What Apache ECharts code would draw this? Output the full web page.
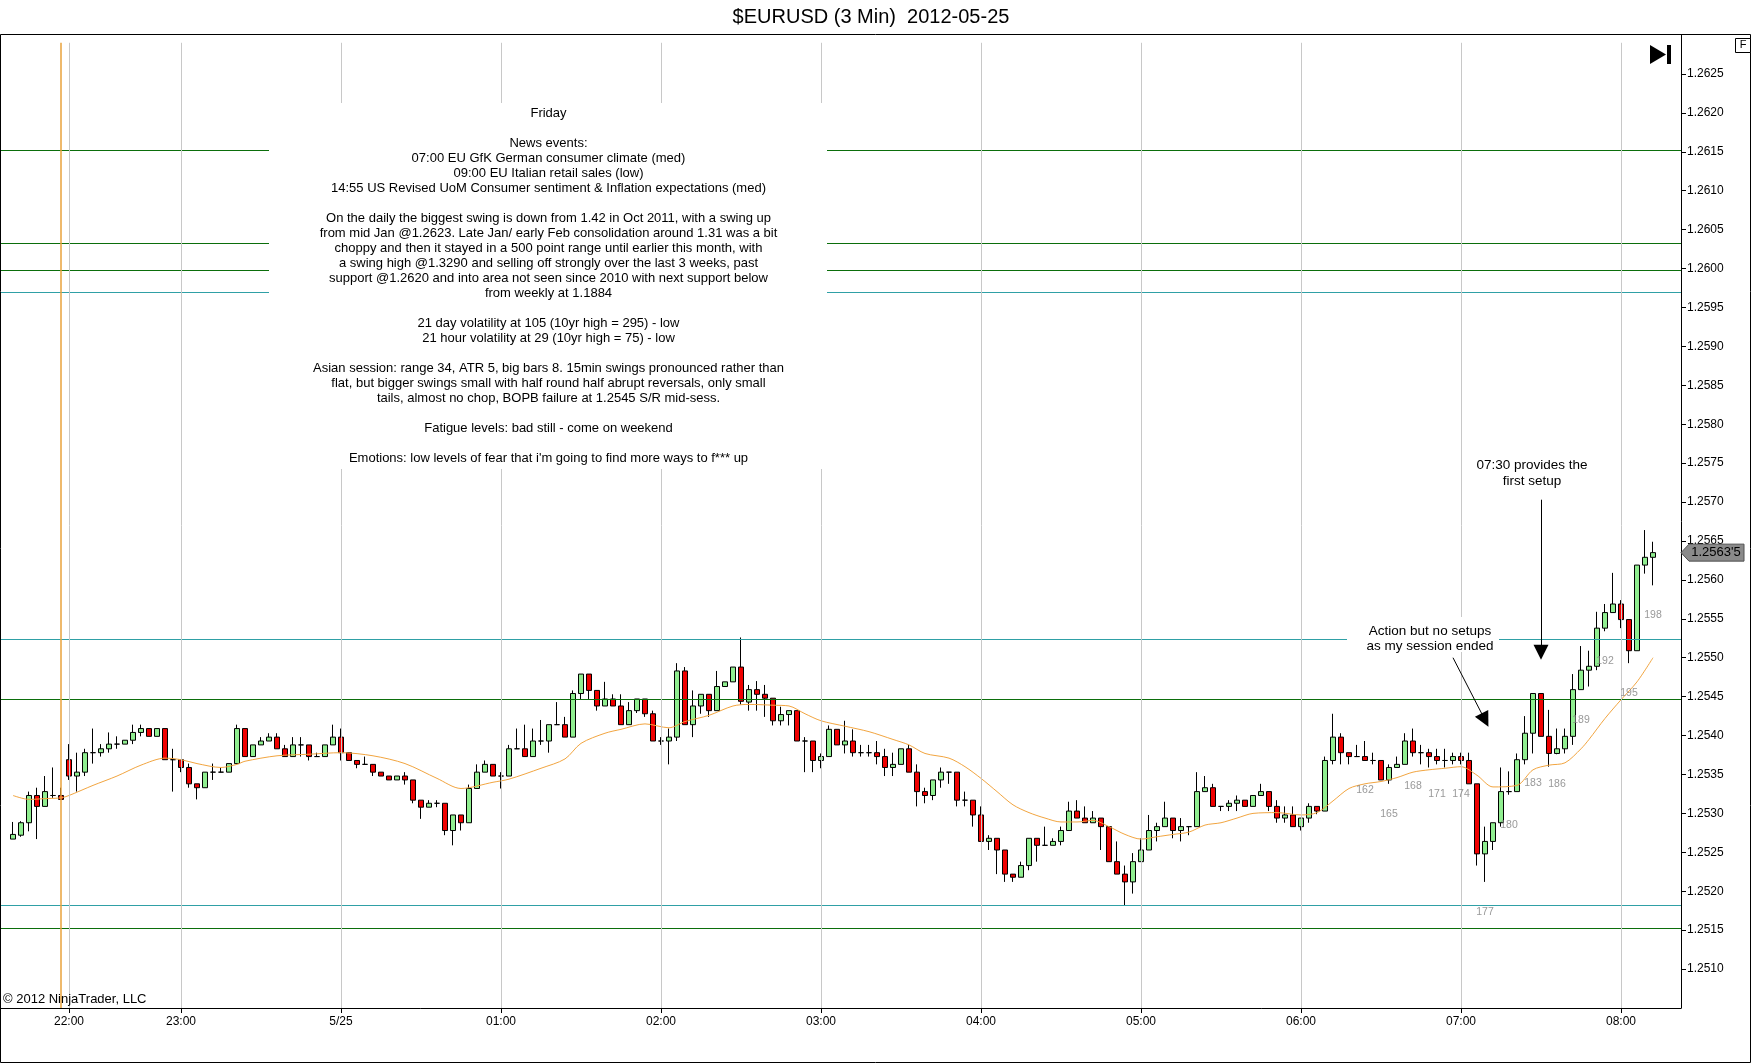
<!DOCTYPE html>
<html>
<head>
<meta charset="utf-8">
<title>$EURUSD (3 Min) 2012-05-25</title>
<script src="https://cdn.jsdelivr.net/npm/echarts@6/dist/echarts.min.js"></script>
<style>
  html, body { margin: 0; padding: 0; background: #fff; }
  #chart { width: 1752px; height: 1064px; }
</style>
</head>
<body>
<div id="chart"></div>
<script>
// 3 min bars, index 0 = first bar on the left of the chart
var opens = [
  1.25267,1.25272,1.25288,1.25323,1.25309,1.25323,1.25323,1.25369,1.25348,1.25353,
  1.25378,1.25378,1.25383,1.25389,1.25389,1.25394,1.25404,1.25409,1.25399,1.25409,
  1.25369,1.25369,1.25359,1.25338,1.25333,1.25353,1.25353,1.25353,1.25364,1.25409,
  1.25373,1.25388,1.25393,1.25398,1.25383,1.25373,1.25388,1.25388,1.25373,1.25373,
  1.25388,1.25398,1.25378,1.25368,1.25363,1.25363,1.25353,1.25348,1.25343,1.25348,
  1.25343,1.25317,1.25308,1.25313,1.25313,1.25278,1.25298,1.25288,1.25332,1.25353,
  1.25363,1.25348,1.25348,1.25383,1.25383,1.25373,1.25393,1.25393,1.25414,1.25414,
  1.25398,1.25454,1.25479,1.25458,1.25438,1.25447,1.25438,1.25414,1.25432,1.25447,
  1.25428,1.25393,1.25393,1.25398,1.25483,1.25414,1.25438,1.25453,1.25432,1.25463,
  1.25469,1.25488,1.25443,1.25459,1.25453,1.25448,1.25419,1.25427,1.25432,1.25393,
  1.25393,1.25368,1.25373,1.25408,1.25388,1.25393,1.25378,1.25378,1.25378,1.25373,
  1.25359,1.25363,1.25383,1.25353,1.25328,1.25323,1.25343,1.25353,1.25353,1.25317,
  1.25317,1.25298,1.25264,1.25268,1.25253,1.25222,1.25218,1.25233,1.25268,1.25259,
  1.25259,1.25264,1.25278,1.25303,1.25294,1.25288,1.25294,1.25283,1.25238,1.25222,
  1.25212,1.25238,1.25253,1.25278,1.25283,1.25294,1.25278,1.25283,1.25283,1.25328,
  1.25333,1.25309,1.25309,1.25313,1.25317,1.25309,1.25323,1.25328,1.25309,1.25294,
  1.25298,1.25283,1.25294,1.25309,1.25303,1.25368,1.25398,1.25378,1.25373,1.25373,
  1.25368,1.25368,1.25343,1.25359,1.25363,1.25393,1.25378,1.25378,1.25373,1.25368,
  1.25368,1.25373,1.25368,1.25338,1.25248,1.25264,1.25288,1.25328,1.25328,1.25369,
  1.25403,1.25454,1.25399,1.25377,1.25383,1.25399,1.25459,1.25484,1.25489,1.25538,
  1.25558,1.25569,1.25549,1.25509,1.25619,1.25629
];
var closes = [
  1.25273,1.25288,1.25323,1.25309,1.25328,1.25323,1.25318,1.25348,1.25353,1.25378,
  1.25378,1.25383,1.25389,1.25389,1.25394,1.25404,1.25409,1.25399,1.25409,1.25369,
  1.25369,1.25359,1.25338,1.25333,1.25353,1.25353,1.25353,1.25364,1.25409,1.25373,
  1.25388,1.25393,1.25398,1.25383,1.25373,1.25388,1.25388,1.25373,1.25373,1.25388,
  1.25398,1.25378,1.25368,1.25363,1.25363,1.25353,1.25348,1.25343,1.25348,1.25343,
  1.25317,1.25308,1.25313,1.25313,1.25278,1.25298,1.25288,1.25332,1.25353,1.25363,
  1.25348,1.25348,1.25383,1.25383,1.25373,1.25393,1.25393,1.25414,1.25414,1.25398,
  1.25454,1.25479,1.25458,1.25438,1.25447,1.25438,1.25414,1.25432,1.25447,1.25428,
  1.25393,1.25393,1.25398,1.25483,1.25414,1.25438,1.25453,1.25432,1.25463,1.25469,
  1.25488,1.25444,1.25459,1.25453,1.25448,1.25419,1.25427,1.25432,1.25393,1.25393,
  1.25368,1.25373,1.25408,1.25388,1.25393,1.25378,1.25378,1.25378,1.25373,1.25359,
  1.25363,1.25383,1.25353,1.25328,1.25323,1.25343,1.25353,1.25353,1.25317,1.25317,
  1.25298,1.25264,1.25268,1.25253,1.25222,1.25218,1.25233,1.25268,1.25259,1.25259,
  1.25264,1.25278,1.25303,1.25294,1.25288,1.25294,1.25283,1.25238,1.25222,1.25212,
  1.25238,1.25253,1.25278,1.25283,1.25294,1.25278,1.25283,1.25283,1.25328,1.25333,
  1.25309,1.25309,1.25313,1.25317,1.25309,1.25323,1.25328,1.25309,1.25294,1.25298,
  1.25283,1.25294,1.25309,1.25303,1.25368,1.25398,1.25378,1.25373,1.25373,1.25368,
  1.25368,1.25343,1.25359,1.25363,1.25393,1.25378,1.25378,1.25373,1.25368,1.25368,
  1.25373,1.25368,1.25338,1.25248,1.25264,1.25288,1.25328,1.25328,1.25369,1.25403,
  1.25454,1.25399,1.25377,1.25383,1.25399,1.25459,1.25484,1.25489,1.25538,1.25558,
  1.25569,1.25549,1.25509,1.25619,1.25629,1.25635
];
var lows = [
  1.25267,1.25270,1.25277,1.25267,1.25309,1.25320,1.25318,1.25343,1.25328,1.25348,
  1.25364,1.25373,1.25378,1.25383,1.25389,1.25389,1.25399,1.25399,1.25399,1.25369,
  1.25328,1.25353,1.25333,1.25318,1.25333,1.25343,1.25353,1.25353,1.25364,1.25373,
  1.25373,1.25388,1.25393,1.25383,1.25373,1.25373,1.25373,1.25368,1.25373,1.25373,
  1.25388,1.25368,1.25368,1.25358,1.25363,1.25348,1.25348,1.25343,1.25343,1.25337,
  1.25313,1.25293,1.25308,1.25308,1.25272,1.25259,1.25278,1.25288,1.25332,1.25353,
  1.25348,1.25332,1.25348,1.25383,1.25373,1.25373,1.25388,1.25378,1.25414,1.25398,
  1.25398,1.25447,1.25447,1.25432,1.25438,1.25438,1.25414,1.25414,1.25429,1.25424,
  1.25393,1.25388,1.25363,1.25393,1.25414,1.25398,1.25428,1.25424,1.25432,1.25463,
  1.25469,1.25440,1.25432,1.25432,1.25424,1.25413,1.25413,1.25413,1.25393,1.25353,
  1.25353,1.25358,1.25373,1.25388,1.25377,1.25373,1.25373,1.25373,1.25363,1.25348,
  1.25348,1.25363,1.25353,1.25309,1.25313,1.25317,1.25333,1.25338,1.25309,1.25309,
  1.25283,1.25264,1.25253,1.25222,1.25212,1.25212,1.25218,1.25227,1.25238,1.25259,
  1.25259,1.25259,1.25278,1.25294,1.25288,1.25288,1.25253,1.25238,1.25222,1.25182,
  1.25197,1.25238,1.25253,1.25264,1.25283,1.25268,1.25264,1.25272,1.25283,1.25328,
  1.25309,1.25303,1.25303,1.25303,1.25309,1.25309,1.25323,1.25303,1.25288,1.25288,
  1.25283,1.25278,1.25288,1.25299,1.25303,1.25363,1.25363,1.25363,1.25373,1.25368,
  1.25363,1.25343,1.25338,1.25359,1.25363,1.25373,1.25363,1.25359,1.25363,1.25359,
  1.25363,1.25363,1.25338,1.25233,1.25212,1.25253,1.25283,1.25324,1.25328,1.25363,
  1.25377,1.25399,1.25360,1.25376,1.25377,1.25388,1.25459,1.25463,1.25484,1.25534,
  1.25558,1.25538,1.25493,1.25509,1.25608,1.25593
];
var highs = [
  1.25289,1.25290,1.25328,1.25333,1.25348,1.25359,1.25333,1.25389,1.25378,1.25383,
  1.25409,1.25389,1.25404,1.25399,1.25394,1.25414,1.25414,1.25409,1.25409,1.25409,
  1.25383,1.25369,1.25364,1.25338,1.25353,1.25364,1.25359,1.25364,1.25414,1.25409,
  1.25388,1.25398,1.25403,1.25403,1.25388,1.25398,1.25398,1.25388,1.25378,1.25388,
  1.25414,1.25409,1.25378,1.25368,1.25373,1.25363,1.25353,1.25348,1.25348,1.25353,
  1.25343,1.25317,1.25317,1.25317,1.25313,1.25298,1.25298,1.25337,1.25363,1.25368,
  1.25363,1.25353,1.25388,1.25409,1.25414,1.25409,1.25420,1.25414,1.25443,1.25424,
  1.25458,1.25479,1.25479,1.25458,1.25469,1.25453,1.25453,1.25443,1.25447,1.25447,
  1.25432,1.25398,1.25409,1.25493,1.25488,1.25458,1.25453,1.25453,1.25483,1.25469,
  1.25488,1.25526,1.25465,1.25470,1.25465,1.25448,1.25437,1.25432,1.25432,1.25398,
  1.25393,1.25377,1.25413,1.25408,1.25419,1.25408,1.25388,1.25388,1.25393,1.25383,
  1.25378,1.25383,1.25388,1.25363,1.25333,1.25343,1.25359,1.25353,1.25353,1.25328,
  1.25317,1.25309,1.25272,1.25268,1.25253,1.25222,1.25238,1.25268,1.25268,1.25283,
  1.25268,1.25283,1.25315,1.25317,1.25309,1.25303,1.25294,1.25283,1.25264,1.25233,
  1.25249,1.25268,1.25298,1.25288,1.25315,1.25294,1.25294,1.25283,1.25353,1.25348,
  1.25338,1.25309,1.25317,1.25323,1.25317,1.25323,1.25338,1.25328,1.25317,1.25309,
  1.25309,1.25294,1.25313,1.25309,1.25373,1.25428,1.25403,1.25378,1.25388,1.25393,
  1.25378,1.25368,1.25363,1.25373,1.25403,1.25409,1.25388,1.25383,1.25383,1.25383,
  1.25378,1.25378,1.25378,1.25338,1.25283,1.25288,1.25359,1.25354,1.25377,1.25425,
  1.25454,1.25454,1.25433,1.25409,1.25409,1.25479,1.25515,1.25509,1.25559,1.25569,
  1.25609,1.25574,1.25549,1.25619,1.25664,1.25649
];

// orange average line at these bars
var maBars = [0, 2, 4, 6, 7, 10, 13, 16, 19, 21, 23, 26, 28, 29, 33, 37, 41, 45, 49, 53,
  56, 60, 62, 66, 69, 71, 74, 76, 79, 82, 84, 87, 90, 92, 95, 97, 99, 101, 104, 107,
  110, 112, 114, 117, 119, 121, 123, 125, 127, 129, 131, 133, 135, 137, 139, 141, 143, 145, 147, 149,
  151, 153, 155, 158, 161, 163, 165, 167, 169, 171, 173, 175, 177, 179, 181, 183, 185, 188, 190, 192,
  194, 196, 197, 199, 201, 203, 205];
var maValues = [1.25323, 1.25318, 1.25319, 1.25320, 1.25323, 1.25336, 1.25348, 1.25362, 1.25371, 1.25369,
  1.25364, 1.25359, 1.25363, 1.25367, 1.25374, 1.25376, 1.25378, 1.25374, 1.25364, 1.25345,
  1.25332, 1.25340, 1.25344, 1.25358, 1.25370, 1.25390, 1.25403, 1.25408, 1.25415, 1.25410,
  1.25418, 1.25426, 1.25438, 1.25440, 1.25439, 1.25438, 1.25428, 1.25419, 1.25412, 1.25405,
  1.25395, 1.25388, 1.25377, 1.25371, 1.25360, 1.25345, 1.25328, 1.25311, 1.25301, 1.25294,
  1.25289, 1.25289, 1.25291, 1.25283, 1.25273, 1.25267, 1.25270, 1.25273, 1.25276, 1.25285,
  1.25288, 1.25294, 1.25300, 1.25301, 1.25298, 1.25301, 1.25316, 1.25332, 1.25338, 1.25341,
  1.25346, 1.25353, 1.25356, 1.25358, 1.25360, 1.25349, 1.25334, 1.25336, 1.25356, 1.25362,
  1.25365, 1.25383, 1.25395, 1.25422, 1.25446, 1.25469, 1.25500];

// time axis
var hourBars = [7, 21, 41, 61, 81, 101, 121, 141, 161, 181, 201];
var hourLabels = ['22:00', '23:00', '5/25', '01:00', '02:00', '03:00', '04:00', '05:00', '06:00', '07:00', '08:00'];
var sessionBar = 6;

// price axis
var yMin = 1.2505, yMax = 1.2630, yStep = 0.0005;

// drawn S/R levels
var greenLevels = [1.26152, 1.26033, 1.25998, 1.25447, 1.25153];
var tealLevels = [1.25970, 1.25524, 1.25182];

// bar counter (0 = first bar of the session)
var sessionFirstBar = 7;
var counterNumbers = [162, 165, 168, 171, 174, 177, 180, 183, 186, 189, 192, 195, 198];

var noteLines = [
  'Friday',
  '',
  'News events:',
  '07:00 EU GfK German consumer climate (med)',
  '09:00 EU Italian retail sales (low)',
  '14:55 US Revised UoM Consumer sentiment & Inflation expectations (med)',
  '',
  'On the daily the biggest swing is down from 1.42 in Oct 2011, with a swing up',
  'from mid Jan @1.2623. Late Jan/ early Feb consolidation around 1.31 was a bit',
  'choppy and then it stayed in a 500 point range until earlier this month, with',
  'a swing high @1.3290 and selling off strongly over the last 3 weeks, past',
  'support @1.2620 and into area not seen since 2010 with next support below',
  'from weekly at 1.1884',
  '',
  '21 day volatility at 105 (10yr high = 295) - low',
  '21 hour volatility at 29 (10yr high = 75) - low',
  '',
  'Asian session: range 34, ATR 5, big bars 8. 15min swings pronounced rather than',
  'flat, but bigger swings small with half round half abrupt reversals, only small',
  'tails, almost no chop, BOPB failure at 1.2545 S/R mid-sess.',
  '',
  'Fatigue levels: bad still - come on weekend',
  '',
  "Emotions: low levels of fear that i'm going to find more ways to f*** up"
];

(function () {
  var FONT = '"Liberation Sans", Arial, sans-serif';
  var SLOTS = 210;          // one empty slot left of the first bar, a few on the right
  var slot = function (i) { return i + 1; };

  var categories = [];
  for (var s = 0; s < SLOTS; s++) categories.push(String(s));
  var labelBySlot = {};
  hourBars.forEach(function (b, k) { labelBySlot[slot(b)] = hourLabels[k]; });
  var showHour = function (idx) { return labelBySlot[idx] !== undefined; };

  var candles = opens.map(function (o, i) {
    return [slot(i), o, closes[i], lows[i], highs[i]];
  });
  var maLine = maBars.map(function (b, k) { return [slot(b), maValues[k]]; });
  var counters = counterNumbers.map(function (n) {
    var i = n + sessionFirstBar;
    return [slot(i), lows[i], n];
  });

  var gridTopPrice = 1.2629;
  var vLine = function (bar, color, width) {
    return [{ coord: [slot(bar), gridTopPrice], lineStyle: { color: color, width: width, type: 'solid' } },
            { coord: [slot(bar), yMin] }];
  };
  var levelLines = [];
  greenLevels.forEach(function (v) { levelLines.push({ yAxis: v, lineStyle: { color: '#0B6E0B', width: 1, type: 'solid' } }); });
  tealLevels.forEach(function (v) { levelLines.push({ yAxis: v, lineStyle: { color: '#2FA0A6', width: 1, type: 'solid' } }); });
  hourBars.forEach(function (b) { levelLines.push(vLine(b, '#C8C8C8', 1)); });
  levelLines.push(vLine(sessionBar, '#E9A23B', 1.5));

  var box = document.getElementById('chart');
  var myChart = echarts.init(box);
  var option = {
    animation: false,
    backgroundColor: '#fff',
    grid: { left: 1, right: 71, top: 35, bottom: 56 },
    xAxis: {
      type: 'category',
      data: categories,
      boundaryGap: true,
      axisLine: { lineStyle: { color: '#000', width: 1 } },
      axisTick: { show: true, alignWithLabel: true, interval: showHour, length: 5, lineStyle: { color: '#000' } },
      axisLabel: {
        interval: showHour,
        formatter: function (v, idx) { return labelBySlot[idx] || ''; },
        color: '#000', fontSize: 12, fontFamily: FONT, margin: 8
      },
      splitLine: { show: false }
    },
    yAxis: {
      type: 'value',
      position: 'right',
      min: yMin, max: yMax, interval: yStep,
      axisLine: { show: true, lineStyle: { color: '#000', width: 1 } },
      axisTick: { show: true, length: 5, lineStyle: { color: '#000' } },
      axisLabel: {
        showMinLabel: false, showMaxLabel: false,
        formatter: function (v) { return v.toFixed(4); },
        color: '#000', fontSize: 12, fontFamily: FONT, margin: 6
      },
      splitLine: { show: false }
    },
    series: [
      {
        name: 'levels', type: 'line', data: [], z: 1, silent: true,
        markLine: { silent: true, animation: false, precision: 5, symbol: ['none', 'none'], label: { show: false }, data: levelLines }
      },
      {
        name: '$EURUSD', type: 'candlestick', z: 3,
        encode: { x: 0, y: [1, 2, 3, 4] },
        data: candles,
        barWidth: 6,
        itemStyle: {
          color: '#90EE90', color0: '#F00000',
          borderColor: '#000', borderColor0: '#000', borderColorDoji: '#000', borderWidth: 1
        },
        emphasis: { disabled: true }
      },
      {
        name: 'MA', type: 'line', z: 4, data: maLine, smooth: 0.3,
        showSymbol: false, silent: true,
        lineStyle: { color: '#F2A540', width: 1 }
      },
      {
        name: 'bar count', type: 'scatter', z: 5, data: counters, symbolSize: 1, silent: true,
        itemStyle: { color: 'rgba(0,0,0,0)' },
        label: {
          show: true, position: 'bottom', distance: 24,
          formatter: function (p) { return p.value[2]; },
          color: '#808080', fontSize: 10.5, fontFamily: FONT
        }
      },
      {
        name: 'arrows', type: 'line', data: [], z: 6, silent: true,
        markLine: {
          silent: true, animation: false, precision: 5, symbol: ['none', 'triangle'], symbolSize: 15,
          label: { show: false },
          lineStyle: { color: '#000', width: 1, type: 'solid' },
          itemStyle: { color: '#000' },
          data: [
            [{ coord: [192, 1.25703] }, { coord: [192, 1.25507] }],
            [{ coord: [181, 1.25500] }, { coord: [185, 1.25420] }]
          ]
        }
      }
    ]
  };
  myChart.setOption(option);

  // marker for the last price on the right axis
  var lastClose = closes[closes.length - 1];
  var py = myChart.convertToPixel({ yAxisIndex: 0 }, lastClose);
  var s5 = lastClose.toFixed(5);
  var lastText = s5.slice(0, 6) + "'" + s5.slice(6);

  var txt = function (x, y, text, size, extra) {
    var st = { text: text, font: size + 'px ' + FONT, fill: '#000', align: 'center', textAlign: 'center',
               verticalAlign: 'top', textVerticalAlign: 'top' };
    for (var k in extra) st[k] = extra[k];
    return { type: 'text', x: x, y: y, z: 101, silent: true, style: st };
  };

  myChart.setOption({
    graphic: { elements: [
      // outer frame
      { type: 'rect', z: 100, silent: true, shape: { x: 0.5, y: 34.5, width: 1750, height: 1028 },
        style: { fill: 'none', stroke: '#000', lineWidth: 1 } },
      txt(871, 7, '$EURUSD (3 Min)  2012-05-25', 20),
      // notes
      { type: 'rect', z: 100, silent: true, shape: { x: 269, y: 103, width: 558, height: 366 }, style: { fill: '#fff' } },
      txt(548.5, 105.5, noteLines.join('\n'), 13, { lineHeight: 15 }),
      txt(1532, 458, '07:30 provides the\nfirst setup', 13.5, { lineHeight: 15.5 }),
      { type: 'rect', z: 100, silent: true, shape: { x: 1347, y: 617, width: 152, height: 35 }, style: { fill: '#fff' } },
      txt(1430, 623.5, 'Action but no setups\nas my session ended', 13.5, { lineHeight: 15 }),
      txt(3, 993, '\u00a9 2012 NinjaTrader, LLC', 13, { align: 'left', textAlign: 'left' }),
      // toolbar glyphs
      { type: 'polygon', z: 100, silent: true, shape: { points: [[1650, 45], [1666, 54.5], [1650, 64]] }, style: { fill: '#000' } },
      { type: 'rect', z: 100, silent: true, shape: { x: 1667, y: 45, width: 4, height: 19 }, style: { fill: '#000' } },
      { type: 'rect', z: 100, silent: true, shape: { x: 1735.5, y: 38.5, width: 15, height: 14 }, style: { fill: '#fff', stroke: '#000', lineWidth: 1 } },
      txt(1743, 39, 'F', 11),
      // last price tag
      { type: 'polygon', z: 100, silent: true,
        shape: { points: [[1681, py], [1689, py - 8.5], [1744, py - 8.5], [1744, py + 8.5], [1689, py + 8.5]] },
        style: { fill: '#8A8A8A', stroke: '#505050', lineWidth: 1 } },
      txt(1716, py - 7, lastText, 13)
    ] }
  });
})();
</script>
</body>
</html>
